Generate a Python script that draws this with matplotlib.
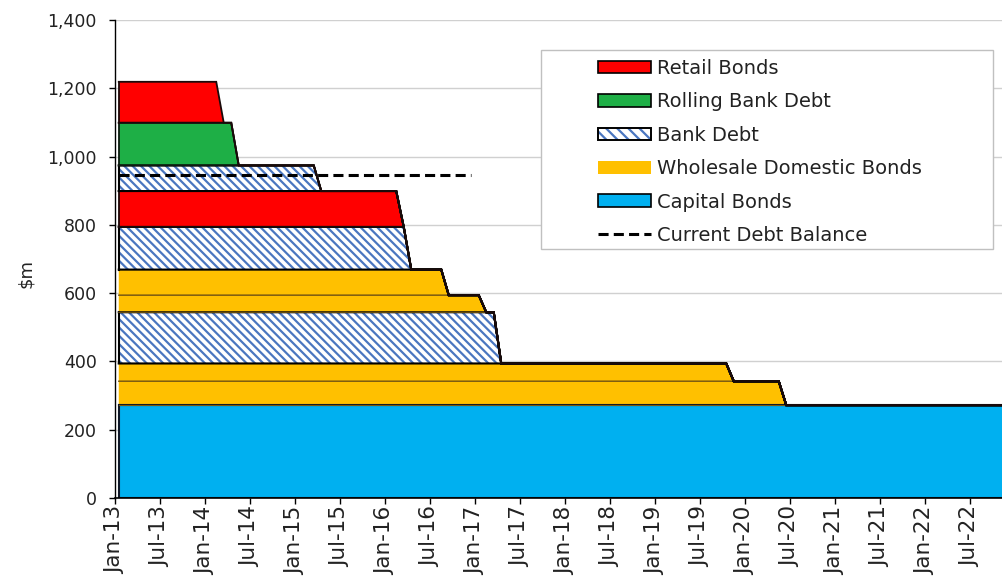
import numpy as np
import pandas as pd
import matplotlib
matplotlib.use("Agg")
import matplotlib.pyplot as plt
from matplotlib.patches import Patch, Rectangle
from matplotlib.lines import Line2D

# debt tranches, stacked from the bottom up ($m), with the month each one runs off
tranche_type = ["Capital Bonds", "Wholesale Domestic Bonds", "Wholesale Domestic Bonds",
                "Bank Debt", "Wholesale Domestic Bonds", "Wholesale Domestic Bonds",
                "Bank Debt", "Retail Bonds", "Bank Debt", "Rolling Bank Debt", "Retail Bonds"]
tranche_amount = [272, 70, 52, 150, 50, 75, 125, 105, 75, 125, 120]
tranche_maturity = ["Jan-24", "Jun-20", "Nov-19", "Apr-17", "Feb-17", "Sep-16",
                    "Apr-16", "Mar-16", "Apr-15", "May-14", "Mar-14"]

debt_balance = 945
debt_balance_until = "Jan-17"

start_month = "Jan-13"
n_months = 121
tick_labels = ["Jan-13", "Jul-13", "Jan-14", "Jul-14", "Jan-15", "Jul-15", "Jan-16",
               "Jul-16", "Jan-17", "Jul-17", "Jan-18", "Jul-18", "Jan-19", "Jul-19",
               "Jan-20", "Jul-20", "Jan-21", "Jul-21", "Jan-22", "Jul-22"]

legend_order = ["Retail Bonds", "Rolling Bank Debt", "Bank Debt",
                "Wholesale Domestic Bonds", "Capital Bonds"]

styles = {
    "Retail Bonds": dict(face="#FF0000", edge="#1A0A0A", lw=1.3, hatch=None, left=True),
    "Rolling Bank Debt": dict(face="#1EAF46", edge="#0F1A10", lw=1.3, hatch=None, left=True),
    "Bank Debt": dict(face="white", edge="black", lw=1.5, hatch="\\\\\\\\", left=True),
    "Wholesale Domestic Bonds": dict(face="#FFC000", edge="#7A5A10", lw=0.8, hatch=None, left=False),
    "Capital Bonds": dict(face="#00B0F0", edge="#101828", lw=1.5, hatch=None, left=True),
}
hatch_blue = "#4A76C0"

plt.rcParams["font.family"] = ["DejaVu Sans"]
plt.rcParams["hatch.color"] = hatch_blue
plt.rcParams["hatch.linewidth"] = 1.6


def month_index(label):
    d = pd.to_datetime(label, format="%b-%y")
    s = pd.to_datetime(start_month, format="%b-%y")
    return (d.year - s.year) * 12 + (d.month - s.month)


idx = np.arange(n_months)
x = idx + 0.5

fig = plt.figure(figsize=(10.03, 5.81), dpi=100)
ax = fig.add_axes([115 / 1003, 1 - 498 / 581, 888 / 1003, 478 / 581])

lower = np.zeros(n_months)
for kind, amount, maturity in zip(tranche_type, tranche_amount, tranche_maturity):
    st = styles[kind]
    vals = np.where(idx < month_index(maturity), amount, 0)
    upper = lower + vals
    if st["hatch"]:
        ax.fill_between(x, lower, upper, facecolor=st["face"], edgecolor=hatch_blue,
                        hatch=st["hatch"], linewidth=0)
    else:
        ax.fill_between(x, lower, upper, facecolor=st["face"], linewidth=0)
    ax.plot(x, upper, color=st["edge"], lw=st["lw"], solid_joinstyle="miter")
    ax.plot(x, lower, color=st["edge"], lw=st["lw"], solid_joinstyle="miter")
    if st["left"]:
        ax.plot([x[0], x[0]], [lower[0], upper[0]], color=st["edge"], lw=st["lw"])
    lower = upper

bal_x = x[idx < month_index(debt_balance_until)]
ax.plot(bal_x, np.full(len(bal_x), debt_balance), color="black", lw=2.2,
        linestyle=(0, (3.3, 1.7)), zorder=3)

ax.set_xlim(0, (1003 - 115) / 7.5)
ax.set_ylim(0, 1400)
ax.set_yticks(np.arange(0, 1401, 200))
ax.set_yticklabels([f"{v:,}" for v in np.arange(0, 1401, 200)])
ax.set_xticks([month_index(t) for t in tick_labels])
ax.set_xticklabels(tick_labels, rotation=90)
ax.grid(axis="y", color="#D0D0D0", lw=1)
ax.set_axisbelow(True)
for s in ["top", "right"]:
    ax.spines[s].set_visible(False)
ax.spines["left"].set_linewidth(1.0)
ax.spines["bottom"].set_linewidth(1.2)
ax.tick_params(axis="y", length=4, width=1, pad=9, labelsize=12.5, labelcolor="#222222")
ax.tick_params(axis="x", length=4, width=1, pad=2, labelsize=15.5, labelcolor="#222222")
ax.set_ylabel(r"\$m", fontsize=13, color="#222222")
ax.yaxis.set_label_coords(-0.09, 0.47)

# legend box
frame = Rectangle((541 / 1003, 1 - 249 / 581), (993 - 541) / 1003, (249 - 50) / 581,
                  transform=fig.transFigure, facecolor="white", edgecolor="#C0C0C0",
                  lw=1, zorder=4, clip_on=False)
ax.add_patch(frame)

handles = []
for kind in legend_order:
    st = styles[kind]
    if st["hatch"]:
        handles.append((Patch(facecolor="white", edgecolor=hatch_blue, hatch="\\\\\\", lw=0),
                        Patch(facecolor="none", edgecolor="black", lw=1.4)))
    elif kind == "Wholesale Domestic Bonds":
        handles.append(Patch(facecolor=st["face"], edgecolor="none"))
    else:
        handles.append(Patch(facecolor=st["face"], edgecolor="black", lw=1.2))
handles.append(Line2D([], [], color="black", lw=2.2, linestyle=(0, (3.3, 1.7))))
labels = legend_order + ["Current Debt Balance"]

leg = ax.legend(handles, labels, loc="upper left", bbox_to_anchor=(598 / 1003, 1 - 59 / 581),
                bbox_transform=fig.transFigure, frameon=False, fontsize=14,
                handlelength=2.75, handleheight=0.62, labelspacing=0.74,
                handletextpad=0.3, borderpad=0, borderaxespad=0)
leg.set_zorder(5)
for t in leg.get_texts():
    t.set_color("#222222")

fig.savefig("out.png", dpi=100)
